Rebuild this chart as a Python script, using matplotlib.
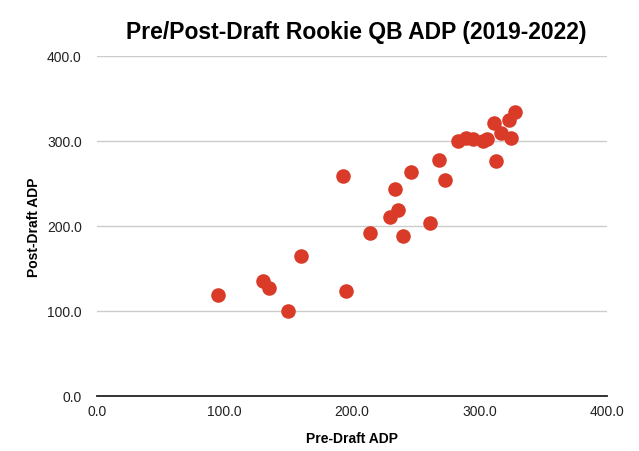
import matplotlib
matplotlib.use("Agg")
import matplotlib.pyplot as plt

plt.rcParams['font.family'] = ['Liberation Sans', 'DejaVu Sans']

# pre-draft ADP vs post-draft ADP, rookie QBs 2019-2022
pre_adp = [95, 130, 135, 150, 160, 193, 195, 214, 230, 234, 236, 240,
           246, 261, 268, 273, 283, 289, 295, 303, 306, 311, 313, 317,
           323, 325, 328]
post_adp = [119, 135, 127, 100, 164, 259, 123, 192, 210, 244, 219, 188,
            264, 204, 278, 254, 300, 303, 302, 300, 302, 321, 276, 309,
            325, 304, 334]

x_ticks = [0, 100, 200, 300, 400]
y_ticks = [0, 100, 200, 300, 400]

fig = plt.figure(figsize=(6.39, 4.52), dpi=100)
ax = fig.add_axes([0.152, 0.122, 0.798, 0.752])

ax.scatter(pre_adp, post_adp, s=110, color='#da3a28', zorder=3, linewidths=0)

ax.set_xlim(0, 400)
ax.set_ylim(0, 400)
ax.set_xticks(x_ticks)
ax.set_yticks(y_ticks)
ax.set_xticklabels([f"{v:.1f}" for v in x_ticks])
ax.set_yticklabels([f"{v:.1f}" for v in y_ticks])
ax.tick_params(length=0, labelsize=10, colors='#222222')
ax.tick_params(axis='x', pad=6)
ax.tick_params(axis='y', pad=11)

ax.grid(axis='y', color='#cccccc', linewidth=1)
ax.set_axisbelow(True)
for side in ['top', 'right', 'left']:
    ax.spines[side].set_visible(False)
ax.spines['bottom'].set_color('#222222')
ax.spines['bottom'].set_linewidth(1.3)
ax.spines['bottom'].set_zorder(4)

ax.set_xlabel("Pre-Draft ADP", fontsize=10, fontweight='bold', labelpad=9)
ax.set_ylabel("Post-Draft ADP", fontsize=10, fontweight='bold', labelpad=4)
fig.text(0.557, 0.928, "Pre/Post-Draft Rookie QB ADP (2019-2022)",
         fontsize=16.5, fontweight='bold', ha='center', va='center')

fig.savefig("out.png", dpi=100)
